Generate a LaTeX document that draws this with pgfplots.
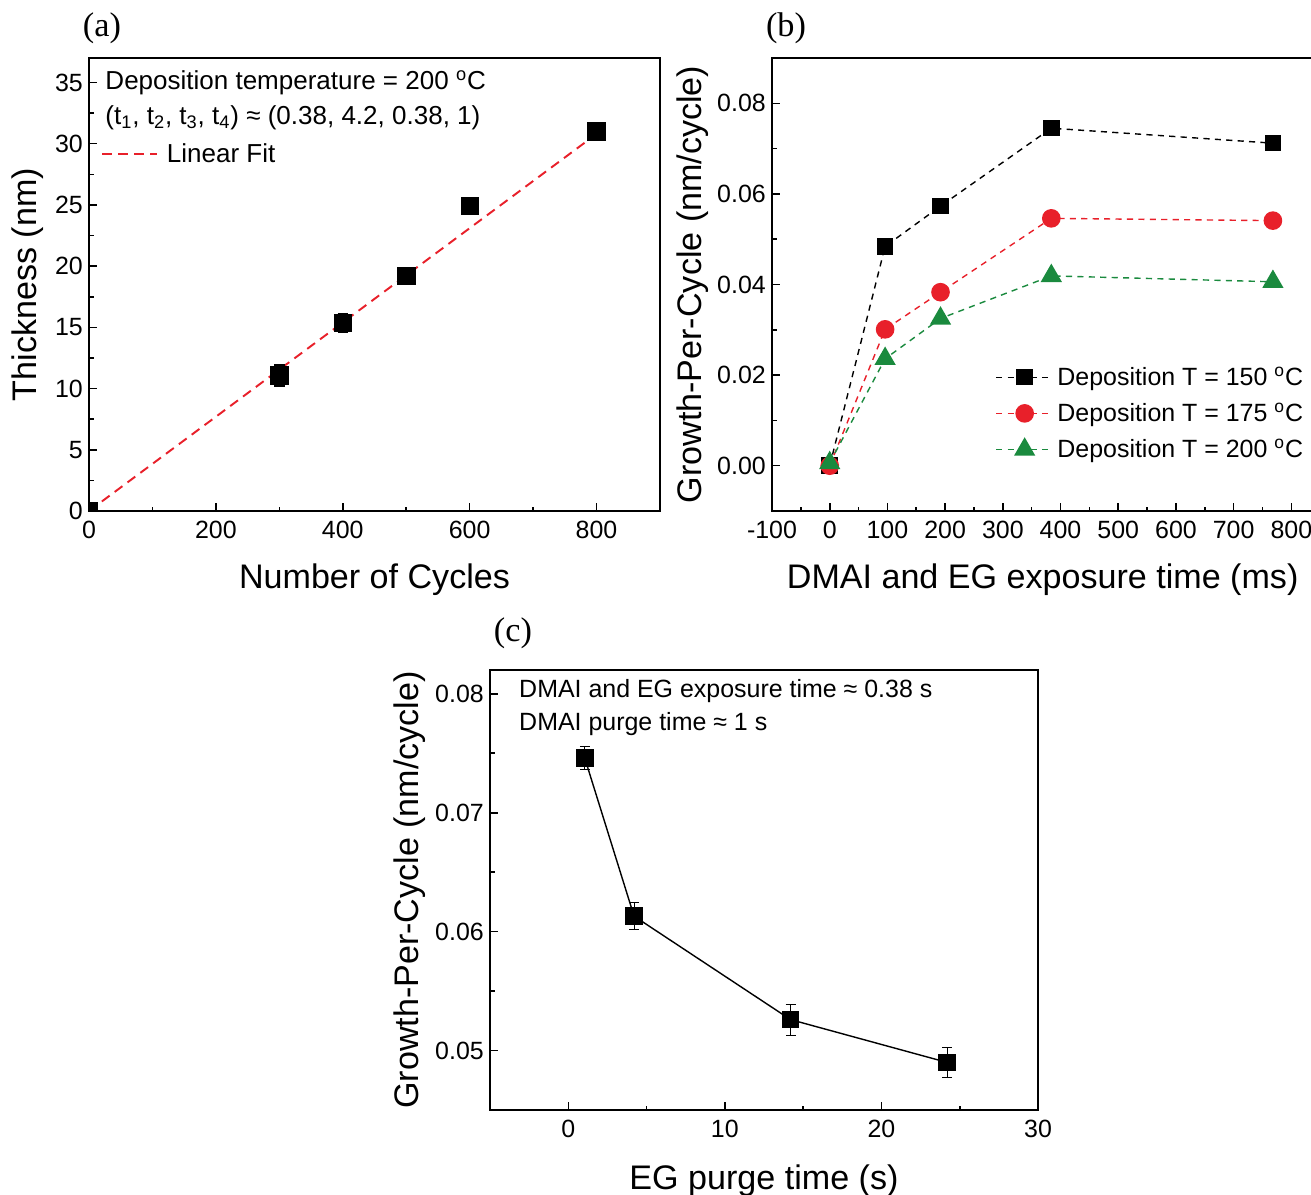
\documentclass[border=0pt]{standalone}
\usepackage{fontspec}
\setmainfont{Liberation Sans}
\newfontfamily\panelfont{Liberation Serif}
\usepackage{pgfplots}
\pgfplotsset{compat=1.18}

\definecolor{ored}{HTML}{E8202A}
\definecolor{ogreen}{HTML}{1A8A3E}

\newcommand\tickfont{\fontsize{14.2}{16}\selectfont}
\newcommand\labfont{\fontsize{19.4}{22}\selectfont}
\newcommand\notefont{\fontsize{14.8}{18}\selectfont}
\newcommand\legfont{\fontsize{14.2}{16}\selectfont}
\newcommand\panfont{\panelfont\fontsize{19.5}{22}\selectfont}
\newcommand\degC{\textsuperscript{o}C}

\pgfplotsset{
  originstyle/.style={
    scale only axis,
    axis line style={line width=1.1pt},
    tick align=inside,
    xtick pos=left, ytick pos=left,
    major tick length=0.16cm,
    minor tick length=0.09cm,
    every tick/.style={black, line width=0.9pt},
    tick label style={font=\tickfont},
    xticklabel style={yshift=-2pt},
    label style={font=\labfont},
    /pgf/number format/assume math mode=true,
    minor x tick num=1, minor y tick num=1,
    enlargelimits=false,
  },
}

\begin{document}
\begin{tikzpicture}
% 1 px of the reference = 0.02 cm
\useasboundingbox (0,0) rectangle (26.22cm,-23.88cm);

% ---------- (a)
\node[font=\panfont] at (2.04cm,-0.56cm) {(a)};
\begin{axis}[originstyle,
  at={(1.78cm,-10.22cm)}, anchor=south west,
  width=11.42cm, height=9.06cm,
  xmin=0, xmax=900, ymin=0, ymax=37,
  xtick={0,200,...,800}, ytick={0,5,...,35},
  xlabel={Number of Cycles}, ylabel={Thickness (nm)},
  xlabel style={at={(axis description cs:0.5,-0.152)}, anchor=center},
  ylabel style={at={(axis description cs:-0.107,0.5)}, anchor=center},
  clip marker paths=true,
  legend style={at={(axis description cs:0.012,0.788)}, anchor=west,
    draw=none, fill=none, font=\notefont, column sep=0.1cm},
  legend image code/.code={\draw[#1] (0cm,0cm) -- (1.1cm,0cm);},
]
\addplot[ored, line width=1.1pt, dash pattern=on 5.5pt off 3.6pt] coordinates {(0,0) (800,30.8)};
\addlegendentry{Linear Fit}
\addplot[forget plot, only marks, black, mark=square*, mark size=5pt,
  error bars/.cd, y dir=both, y explicit,
  error bar style={line width=0.8pt},
  error mark options={rotate=90, mark size=3pt, line width=0.8pt}]
  coordinates {
  (0,0) +- (0,0)
  (300,11.06) +- (0,0.85)
  (400,15.36) +- (0,0.75)
  (500,19.21) +- (0,0.5)
  (600,24.91) +- (0,0.6)
  (800,31.02) +- (0,0.3)
  };
\node[anchor=west, font=\notefont] at (axis description cs:0.018,0.945) {Deposition temperature = 200 \degC};
\node[anchor=west, font=\notefont] at (axis description cs:0.018,0.867) {(t\textsubscript{1}, t\textsubscript{2}, t\textsubscript{3}, t\textsubscript{4}) ≈ (0.38, 4.2, 0.38, 1)};
\end{axis}

% ---------- (b)
\node[font=\panfont] at (15.72cm,-0.56cm) {(b)};
\begin{axis}[originstyle,
  at={(15.44cm,-10.22cm)}, anchor=south west,
  width=10.826cm, height=9.06cm,
  xmin=-100, xmax=838, ymin=-0.01, ymax=0.09,
  xtick={-100,0,...,800}, ytick={0,0.02,...,0.08},
  yticklabel style={/pgf/number format/.cd, fixed, fixed zerofill, precision=2},
  scaled y ticks=false,
  xlabel={DMAI and EG exposure time (ms)}, ylabel={Growth-Per-Cycle (nm/cycle)},
  xlabel style={at={(axis description cs:0.5,-0.152)}, anchor=center},
  ylabel style={at={(axis description cs:-0.146,0.5)}, anchor=center},
  legend style={at={(axis description cs:0.998,0.335)}, anchor=north east,
    draw=none, fill=none, font=\legfont, row sep=4.5pt},
  legend cell align=left,
  legend image code/.code={\draw[mark repeat=2, mark phase=2, #1] plot coordinates {(0cm,0cm) (0.57cm,0cm) (1.14cm,0cm)};},
]
\addplot[black, line width=0.8pt, dash pattern=on 3.5pt off 3pt, mark=square*, mark size=4.3pt, mark options={solid, fill=black}]
  coordinates {(0,0) (96,0.0484) (192,0.0573) (384,0.0745) (768,0.0712)};
\addlegendentry{Deposition T = 150 \degC}
\addplot[ored, line width=0.8pt, dash pattern=on 3.5pt off 3pt, mark=*, mark size=4.9pt, mark options={solid, fill=ored}]
  coordinates {(0,0) (96,0.0301) (192,0.0383) (384,0.0546) (768,0.0541)};
\addlegendentry{Deposition T = 175 \degC}
\addplot[ogreen, line width=0.8pt, dash pattern=on 3.5pt off 3pt, mark=triangle*, mark size=6.2pt, mark options={solid, fill=ogreen}]
  coordinates {(0,0.0006) (96,0.0236) (192,0.0325) (384,0.0419) (768,0.0406)};
\addlegendentry{Deposition T = 200 \degC}
\end{axis}

% ---------- (c)
\node[font=\panfont] at (10.26cm,-12.66cm) {(c)};
\begin{axis}[originstyle,
  at={(9.8cm,-22.2cm)}, anchor=south west,
  width=10.96cm, height=8.8cm,
  xmin=-5, xmax=30, ymin=0.045, ymax=0.082,
  xtick={0,10,20,30}, ytick={0.05,0.06,0.07,0.08},
  yticklabel style={/pgf/number format/.cd, fixed, fixed zerofill, precision=2},
  scaled y ticks=false,
  xlabel={EG purge time (s)}, ylabel={Growth-Per-Cycle (nm/cycle)},
  xlabel style={at={(axis description cs:0.5,-0.16)}, anchor=center},
  ylabel style={at={(axis description cs:-0.146,0.5)}, anchor=center},
]
\addplot[black, line width=0.8pt, mark=square*, mark size=4.6pt, mark options={fill=black},
  error bars/.cd, y dir=both, y explicit,
  error bar style={line width=0.6pt},
  error mark options={rotate=90, mark size=2.8pt, line width=0.6pt}]
  coordinates {
  (1.05,0.0746) +- (0,0.0010)
  (4.2,0.0613) +- (0,0.00115)
  (14.2,0.0526) +- (0,0.0013)
  (24.2,0.0490) +- (0,0.00125)
  };
\node[anchor=west, font=\fontsize{14.2}{17}\selectfont] at (axis description cs:0.042,0.953) {DMAI and EG exposure time ≈ 0.38 s};
\node[anchor=west, font=\fontsize{14.2}{17}\selectfont] at (axis description cs:0.042,0.878) {DMAI purge time ≈ 1 s};
\end{axis}
\end{tikzpicture}
\end{document}
